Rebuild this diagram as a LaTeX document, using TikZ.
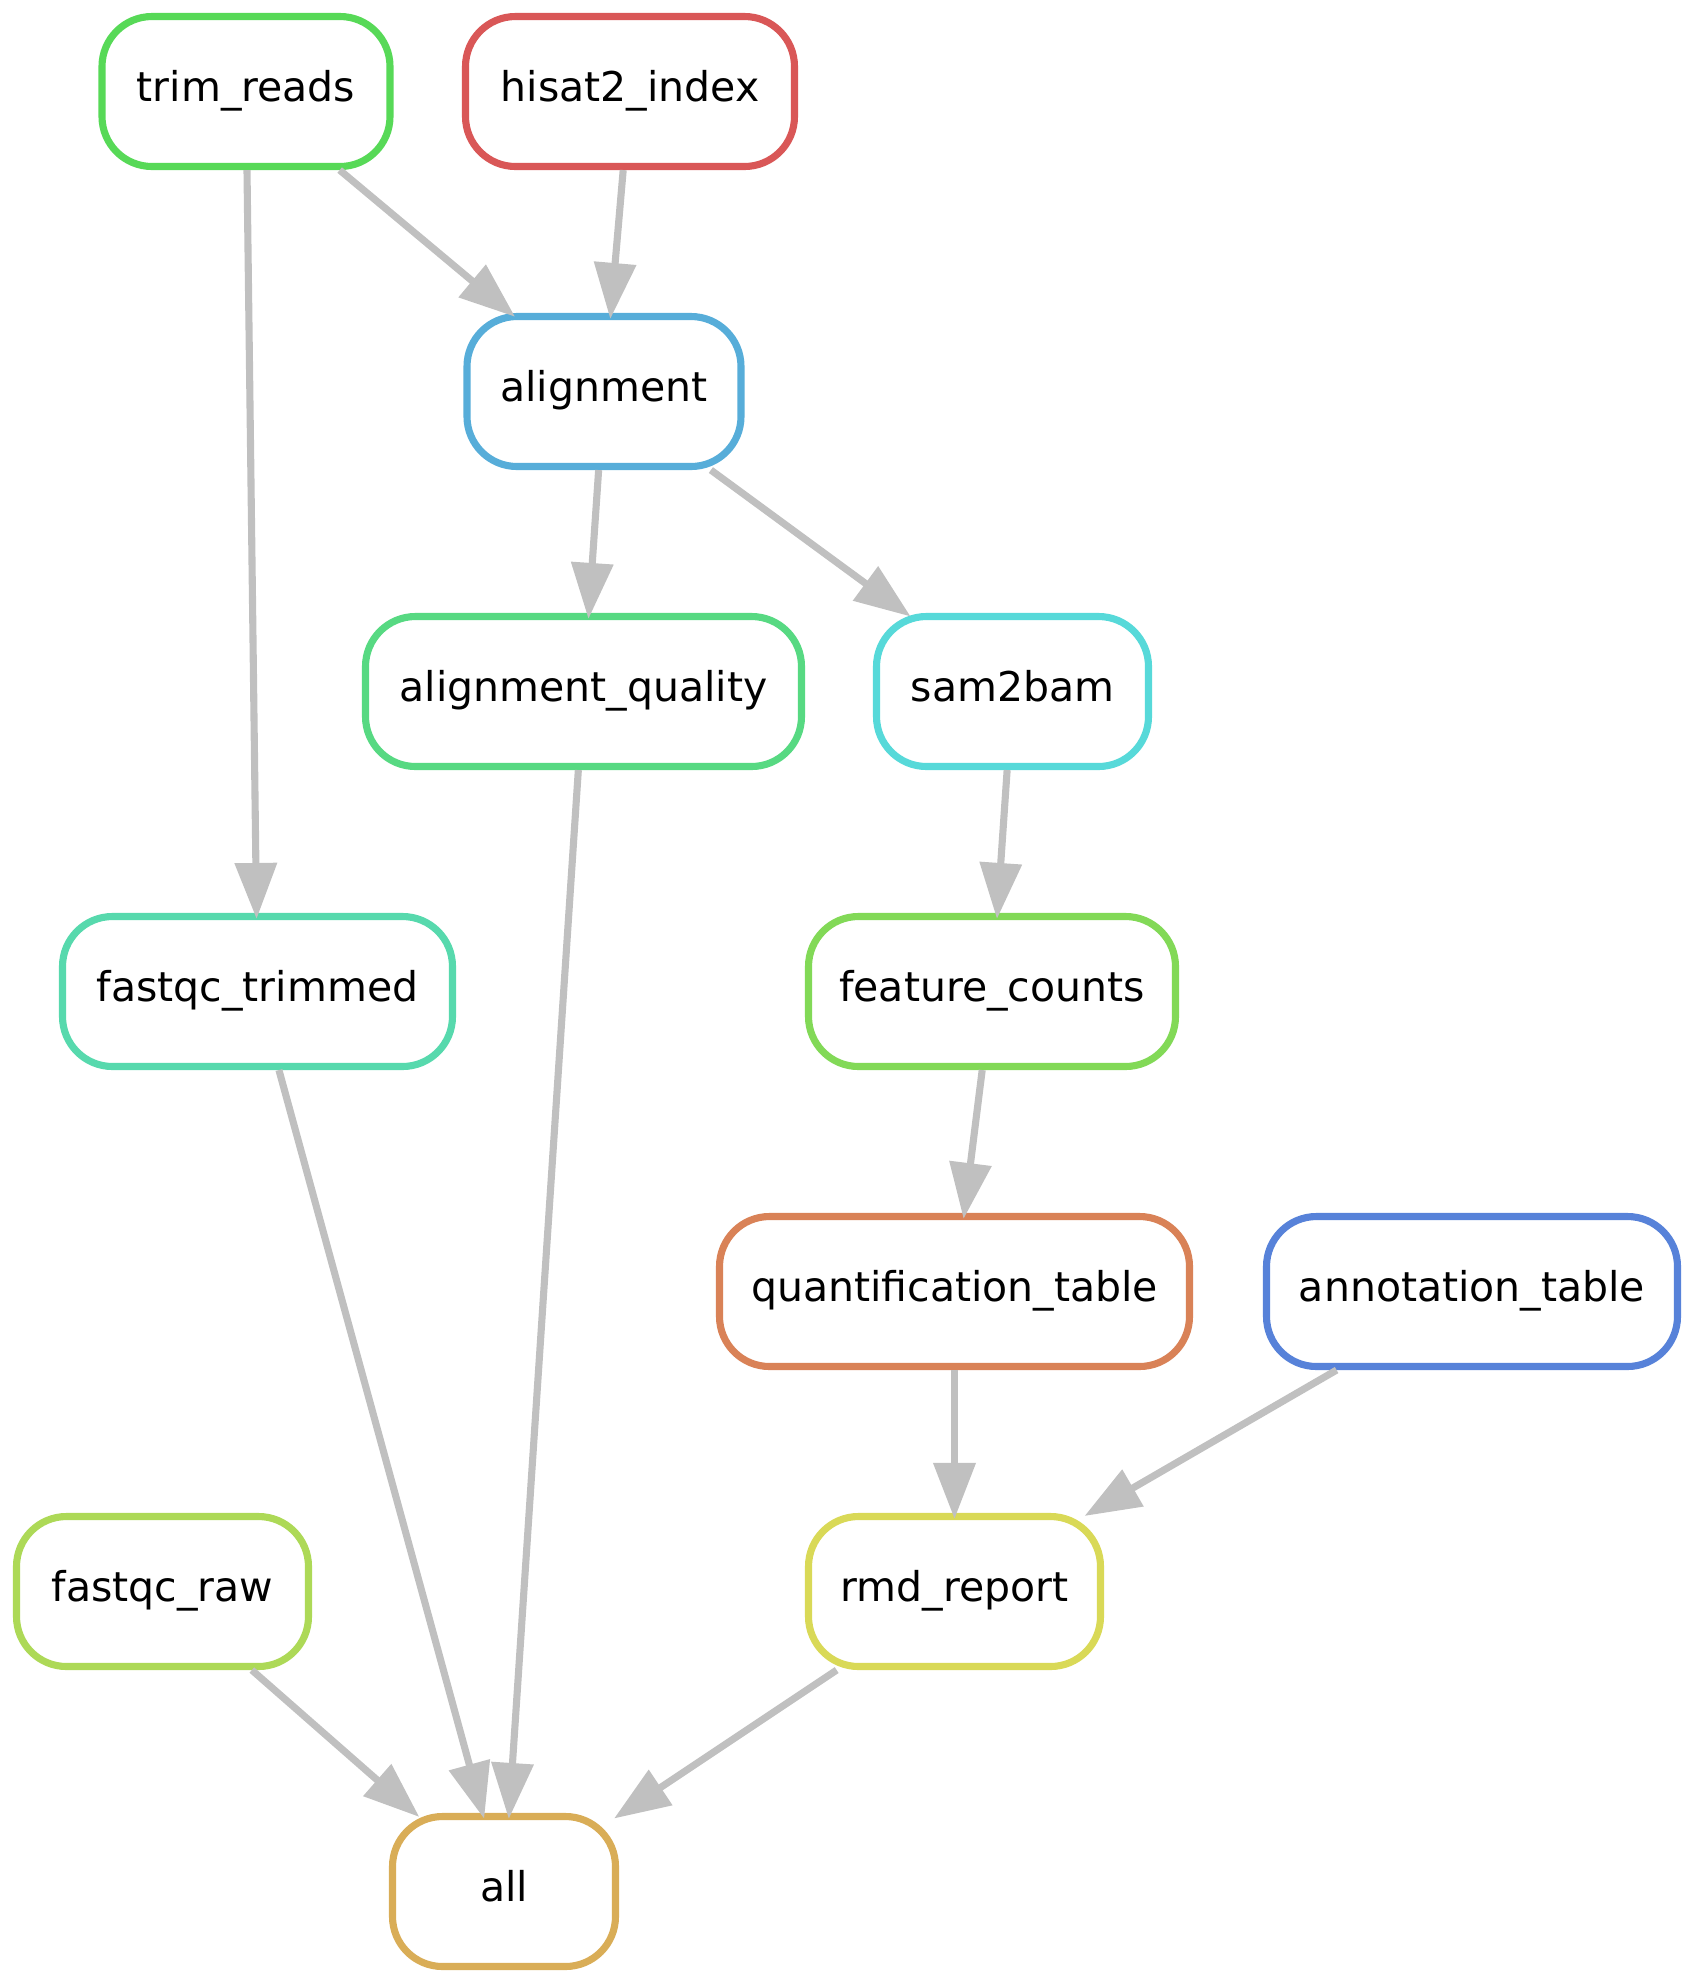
\documentclass[tikz,border=0pt]{standalone}
\usepackage{fontspec}
\setmainfont{DejaVu Sans}
\usetikzlibrary{arrows.meta}
\definecolor{cHisat}{HTML}{D95757}
\definecolor{cQuant}{HTML}{D98257}
\definecolor{cAll}{HTML}{D9AD57}
\definecolor{cRmd}{HTML}{D9D957}
\definecolor{cRaw}{HTML}{ADD957}
\definecolor{cFeat}{HTML}{82D957}
\definecolor{cTrim}{HTML}{57D957}
\definecolor{cAQ}{HTML}{57D982}
\definecolor{cFQT}{HTML}{57D9AD}
\definecolor{cSam}{HTML}{57D9D9}
\definecolor{cAlign}{HTML}{57ADD9}
\definecolor{cAnno}{HTML}{5782D9}
\definecolor{edgegrey}{HTML}{C0C0C0}
\begin{document}
\begin{tikzpicture}[x=0.5pt,y=-0.5pt,
  rule/.style={draw=#1, rectangle, rounded corners=25pt, line width=3.55pt,
    minimum height=75pt, inner sep=0pt, text height=15.6pt, text depth=5.3pt,
    font=\fontsize{20.5pt}{24pt}\selectfont, fill=white},
  dep/.style={draw=edgegrey, line width=3.55pt,
    -{Triangle[length=28pt,width=20.5pt]}, shorten >=-3pt}]
\useasboundingbox (0,0) rectangle (1694,1983);
\node[rule=cTrim, minimum width=144pt] (trim) at (246,91.5) {trim\_reads};
\node[rule=cHisat, minimum width=164.5pt] (hisat) at (630,91.5) {hisat2\_index};
\node[rule=cAlign, minimum width=137pt] (align) at (604,391.5) {alignment};
\node[rule=cAQ, minimum width=218pt] (aq) at (583.5,691.5) {alignment\_quality};
\node[rule=cSam, minimum width=136pt] (sam) at (1012.5,691.5) {sam2bam};
\node[rule=cFQT, minimum width=195pt] (fqt) at (257.5,991.5) {fastqc\_trimmed};
\node[rule=cFeat, minimum width=183.5pt] (feat) at (992,991.5) {feature\_counts};
\node[rule=cQuant, minimum width=235pt] (quant) at (954.5,1291.5) {quantification\_table};
\node[rule=cAnno, minimum width=205.5pt] (anno) at (1472,1291.5) {annotation\_table};
\node[rule=cRaw, minimum width=146pt] (raw) at (162.5,1591.5) {fastqc\_raw};
\node[rule=cRmd, minimum width=146pt] (rmd) at (954.5,1591.5) {rmd\_report};
\node[rule=cAll, minimum width=111.5pt] (all) at (504,1891.5) {all};
\draw[dep] (trim) -- (align);
\draw[dep] (hisat) -- (align);
\draw[dep] (trim) -- (fqt);
\draw[dep] (align) -- (aq);
\draw[dep] (align) -- (sam);
\draw[dep] (sam) -- (feat);
\draw[dep] (feat) -- (quant);
\draw[dep] (quant) -- (rmd);
\draw[dep] (anno) -- (rmd);
\draw[dep] (fqt) -- (all);
\draw[dep] (aq) -- (all);
\draw[dep] (raw) -- (all);
\draw[dep] (rmd) -- (all);
\end{tikzpicture}
\end{document}
